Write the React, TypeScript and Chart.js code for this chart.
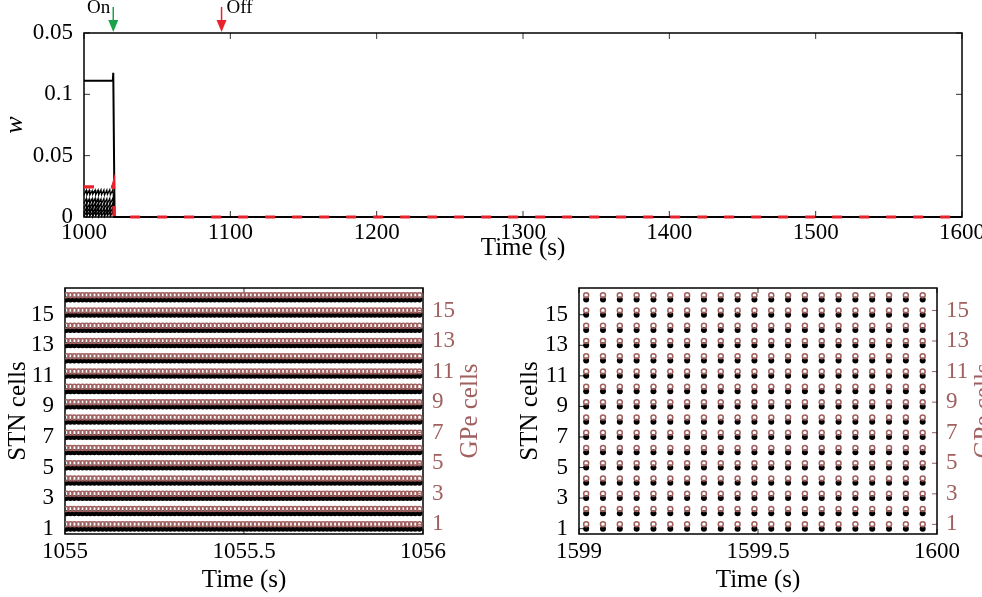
import React, { useEffect, useRef } from "react";
import { Chart, registerables } from "chart.js";
Chart.register(...registerables);

const FONT_FAMILY = "'Liberation Serif', 'DejaVu Serif', serif";
const GPE_COLOR = "#a0605f";
const RED = "#e8232d";
const GREEN = "#18a34a";

// ---------- top panel data ----------
const TOP_X_TICKS = [1000, 1100, 1200, 1300, 1400, 1500, 1600];
const TOP_Y_TICKS = [0, 0.05, 0.1, 0.15];
const TOP_Y_LABELS = ["0", "0.05", "0.1", "0.05"];
const ON_TIME = 1020;
const OFF_TIME = 1094;

const WMAX_T = [1000, 1019.7, 1020, 1020.9, 1600];
const WMAX_V = [0.111, 0.111, 0.1176, 0, 0];
const WRED_T = [1000, 1019.6, 1020.2, 1020.6, 1600];
const WRED_V = [0.0245, 0.0245, 0.027, 0, 0];

const ZIG_T = [1000, 1001.6, 1002, 1003.6, 1004, 1005.6, 1006, 1007.6, 1008, 1009.6, 1010, 1011.6, 1012, 1013.6, 1014, 1015.6, 1016, 1017.6, 1018, 1019.6, 1020, 1020.8, 1600];
const ZIG_1 = [0.018, 0.022, 0.018, 0.022, 0.018, 0.0215, 0.0185, 0.022, 0.018, 0.022, 0.018, 0.0222, 0.0182, 0.022, 0.018, 0.022, 0.0185, 0.0222, 0.0182, 0.022, 0.019, 0, 0];
const ZIG_2 = [0.011, 0.015, 0.011, 0.0148, 0.0108, 0.015, 0.0112, 0.0152, 0.011, 0.015, 0.011, 0.0148, 0.011, 0.015, 0.0112, 0.015, 0.011, 0.0152, 0.011, 0.015, 0.012, 0, 0];
const ZIG_3 = [0.007, 0.011, 0.006, 0.0105, 0.0068, 0.011, 0.007, 0.0112, 0.0065, 0.011, 0.007, 0.0108, 0.0068, 0.011, 0.007, 0.0112, 0.0066, 0.011, 0.007, 0.011, 0.008, 0, 0];
const ZIG_4 = [0.003, 0.0075, 0.0035, 0.007, 0.003, 0.0078, 0.0032, 0.0072, 0.003, 0.0076, 0.0034, 0.007, 0.003, 0.0075, 0.0032, 0.0074, 0.003, 0.0072, 0.0034, 0.0076, 0.004, 0, 0];
const ZIG_5 = [0.0005, 0.004, 0.001, 0.0042, 0.0008, 0.0038, 0.0005, 0.0044, 0.001, 0.004, 0.0006, 0.0042, 0.0008, 0.004, 0.0005, 0.0043, 0.001, 0.004, 0.0006, 0.0042, 0.002, 0, 0];
const ZIGS = [ZIG_1, ZIG_2, ZIG_3, ZIG_4, ZIG_5];

// ---------- raster panels data ----------
const CELLS = [1, 2, 3, 4, 5, 6, 7, 8, 9, 10, 11, 12, 13, 14, 15, 16];
const CELL_TICKS = [1, 3, 5, 7, 9, 11, 13, 15];

const LEFT_BASE = 1055;
const LEFT_X_TICKS = [1055, 1055.5, 1056];
const LEFT_X_LABELS = ["1055", "1055.5", "1056"];
const LEFT_SPIKES_MS = [4, 15, 26, 38, 49, 60, 71, 82, 94, 105, 116, 127, 138, 150, 161, 172, 183, 194, 206, 217, 228, 239, 250, 262, 273, 284, 295, 306, 318, 329, 340, 351, 362, 374, 385, 396, 407, 418, 430, 441, 452, 463, 474, 486, 497, 508, 519, 530, 542, 553, 564, 575, 586, 598, 609, 620, 631, 642, 654, 665, 676, 687, 698, 710, 721, 732, 743, 754, 766, 777, 788, 799, 810, 822, 833, 844, 855, 866, 878, 889, 900, 911, 922, 934, 945, 956, 967, 978, 990];

const RIGHT_BASE = 1599;
const RIGHT_X_TICKS = [1599, 1599.5, 1600];
const RIGHT_X_LABELS = ["1599", "1599.5", "1600"];
const RIGHT_SPIKES_MS = [20, 67, 114, 161, 208, 255, 302, 349, 396, 443, 490, 537, 584, 631, 678, 725, 772, 819, 866, 913, 960];

const TICK_SIZE = 23;
const TITLE_SIZE = 25;
const font = (size: number, style: string = "normal") => ({ family: FONT_FAMILY, size, style: style as any });

function makeFramePlugin(cfg: { mirrorLeft?: boolean; gpeTitle?: boolean; arrows?: boolean; tickLen: number }) {
  return {
    id: "frame",
    beforeDatasetsDraw(chart: any) {
      const { ctx, chartArea: a, scales } = chart;
      const L = cfg.tickLen;
      ctx.save();
      const seg = (x1: number, y1: number, x2: number, y2: number) => {
        ctx.beginPath();
        ctx.moveTo(x1, y1);
        ctx.lineTo(x2, y2);
        ctx.stroke();
      };
      ctx.lineWidth = 1;
      ctx.strokeStyle = "#333";
      const xs = scales.x;
      for (const t of xs.ticks) {
        const p = xs.getPixelForValue(t.value);
        seg(p, a.bottom, p, a.bottom - L);
        seg(p, a.top, p, a.top + L);
      }
      const ys = scales.y;
      for (const t of ys.ticks) {
        const p = ys.getPixelForValue(t.value);
        seg(a.left, p, a.left + L, p);
        if (cfg.mirrorLeft) seg(a.right, p, a.right - L, p);
      }
      if (scales.y2) {
        ctx.strokeStyle = GPE_COLOR;
        for (const t of scales.y2.ticks) {
          const p = scales.y2.getPixelForValue(t.value);
          seg(a.right, p, a.right - L, p);
        }
      }
      ctx.strokeStyle = "#000";
      ctx.lineWidth = 1.5;
      ctx.strokeRect(a.left, a.top, a.right - a.left, a.bottom - a.top);
      ctx.restore();
    },
    afterDraw(chart: any) {
      const { ctx, chartArea: a, scales } = chart;
      ctx.save();
      if (cfg.gpeTitle) {
        ctx.translate(a.right + 47, (a.top + a.bottom) / 2);
        ctx.rotate(-Math.PI / 2);
        ctx.fillStyle = GPE_COLOR;
        ctx.font = `${TITLE_SIZE}px ${FONT_FAMILY}`;
        ctx.textAlign = "center";
        ctx.textBaseline = "middle";
        ctx.fillText("GPe cells", 0, 0);
        ctx.setTransform(1, 0, 0, 1, 0, 0);
      }
      if (cfg.arrows) {
        const xs = scales.x;
        const drawArrow = (t: number, color: string, label: string, side: string) => {
          const x = xs.getPixelForValue(t);
          ctx.strokeStyle = color;
          ctx.fillStyle = color;
          ctx.lineWidth = 1.5;
          ctx.beginPath();
          ctx.moveTo(x, 7);
          ctx.lineTo(x, a.top - 10);
          ctx.stroke();
          ctx.beginPath();
          ctx.moveTo(x - 5, a.top - 13);
          ctx.lineTo(x + 5, a.top - 13);
          ctx.lineTo(x, a.top - 1);
          ctx.closePath();
          ctx.fill();
          ctx.fillStyle = "#000";
          ctx.font = `19px ${FONT_FAMILY}`;
          ctx.textBaseline = "alphabetic";
          ctx.textAlign = side === "left" ? "right" : "left";
          ctx.fillText(label, side === "left" ? x - 3 : x + 5, 13);
        };
        drawArrow(ON_TIME, GREEN, "On", "left");
        drawArrow(OFF_TIME, RED, "Off", "right");
      }
      ctx.restore();
    },
  };
}

const pts = (ts: number[], vs: number[]) => ts.map((t, i) => ({ x: t, y: vs[i] }));

function topConfig(): any {
  return {
    type: "line",
    data: {
      datasets: [
        { data: pts(WRED_T, WRED_V), borderColor: RED, borderWidth: 3.2, borderDash: [10, 17], pointRadius: 0, fill: false, clip: 6 },
        { data: pts(WMAX_T, WMAX_V), borderColor: "#000", borderWidth: 2, pointRadius: 0, fill: false, clip: 6 },
        ...ZIGS.map((v) => ({ data: pts(ZIG_T, v), borderColor: "#000", borderWidth: 1.3, pointRadius: 0, fill: false, clip: 6 })),
      ],
    },
    options: {
      animation: false,
      responsive: true,
      maintainAspectRatio: false,
      events: [],
      layout: { padding: { top: 33, right: 20, left: 0, bottom: 0 } },
      plugins: { legend: { display: false }, tooltip: { enabled: false } },
      scales: {
        x: {
          type: "linear",
          min: 1000,
          max: 1600,
          afterBuildTicks: (s: any) => { s.ticks = TOP_X_TICKS.map((v) => ({ value: v })); },
          ticks: { font: font(TICK_SIZE), color: "#000", padding: 2, maxRotation: 0, autoSkip: false, callback: (v: any) => String(v) },
          grid: { display: false, drawTicks: false },
          border: { display: false },
          title: { display: true, text: "Time (s)", font: font(TITLE_SIZE), color: "#000", padding: { top: 0, bottom: 2 } },
          afterFit: (s: any) => { s.height = 48; s.paddingLeft = 0; s.paddingRight = 0; },
        },
        y: {
          type: "linear",
          min: 0,
          max: 0.15,
          afterBuildTicks: (s: any) => { s.ticks = TOP_Y_TICKS.map((v) => ({ value: v })); },
          ticks: { font: font(TICK_SIZE), color: "#000", padding: 11, autoSkip: false, callback: (_v: any, i: number) => TOP_Y_LABELS[i] },
          grid: { display: false, drawTicks: false },
          border: { display: false },
          title: { display: true, text: "w", font: font(26, "italic"), color: "#000", padding: { top: 0, bottom: 0 } },
          afterFit: (s: any) => { s.width = 84; s.paddingTop = 0; s.paddingBottom = 0; },
        },
      },
    },
    plugins: [makeFramePlugin({ mirrorLeft: true, arrows: true, tickLen: 6 })],
  };
}

function rasterConfig(base: number, spikesMs: number[], xTicks: number[], xLabels: string[], leftPad: number, yWidth: number, gpeWidth: number): any {
  const times = spikesMs.map((m) => base + m / 1000);
  const stn = CELLS.flatMap((c) => times.map((t) => ({ x: t, y: c })));
  const gpe = CELLS.flatMap((c) => times.map((t) => ({ x: t, y: c })));
  return {
    type: "scatter",
    data: {
      datasets: [
        { data: gpe, yAxisID: "y2", pointRadius: 2.5, borderWidth: 1.5, borderColor: GPE_COLOR, backgroundColor: "rgba(255,255,255,0)", showLine: false },
        { data: stn, yAxisID: "y", pointRadius: 3, borderWidth: 0, backgroundColor: "#000", borderColor: "#000", showLine: false },
      ],
    },
    options: {
      animation: false,
      responsive: true,
      maintainAspectRatio: false,
      events: [],
      layout: { padding: { top: 18, right: 0, left: leftPad, bottom: 0 } },
      plugins: { legend: { display: false }, tooltip: { enabled: false } },
      scales: {
        x: {
          type: "linear",
          min: base,
          max: base + 1,
          afterBuildTicks: (s: any) => { s.ticks = xTicks.map((v) => ({ value: v })); },
          ticks: { font: font(TICK_SIZE), color: "#000", padding: 4, maxRotation: 0, autoSkip: false, callback: (_v: any, i: number) => xLabels[i] },
          grid: { display: false, drawTicks: false },
          border: { display: false },
          title: { display: true, text: "Time (s)", font: font(TITLE_SIZE), color: "#000", padding: { top: 0, bottom: 2 } },
          afterFit: (s: any) => { s.height = 63; s.paddingLeft = 0; s.paddingRight = 0; },
        },
        y: {
          type: "linear",
          position: "left",
          min: 0.65,
          max: 16.75,
          afterBuildTicks: (s: any) => { s.ticks = CELL_TICKS.map((v) => ({ value: v })); },
          ticks: { font: font(TICK_SIZE), color: "#000", padding: 11, autoSkip: false, callback: (v: any) => String(v) },
          grid: { display: false, drawTicks: false },
          border: { display: false },
          title: { display: true, text: "STN cells", font: font(TITLE_SIZE), color: "#000", padding: { top: 3, bottom: 0 } },
          afterFit: (s: any) => { s.width = yWidth; s.paddingTop = 0; s.paddingBottom = 0; },
        },
        y2: {
          type: "linear",
          position: "right",
          min: 0.37,
          max: 16.47,
          afterBuildTicks: (s: any) => { s.ticks = CELL_TICKS.map((v) => ({ value: v })); },
          ticks: { font: font(TICK_SIZE), color: GPE_COLOR, padding: 9, autoSkip: false, callback: (v: any) => String(v) },
          grid: { display: false, drawTicks: false },
          border: { display: false },
          afterFit: (s: any) => { s.width = gpeWidth; s.paddingTop = 0; s.paddingBottom = 0; },
        },
      },
    },
    plugins: [makeFramePlugin({ gpeTitle: true, tickLen: 5 })],
  };
}

export default function App() {
  const topRef = useRef<HTMLCanvasElement | null>(null);
  const leftRef = useRef<HTMLCanvasElement | null>(null);
  const rightRef = useRef<HTMLCanvasElement | null>(null);

  useEffect(() => {
    const charts: Chart[] = [];
    if (topRef.current) charts.push(new Chart(topRef.current, topConfig()));
    if (leftRef.current) charts.push(new Chart(leftRef.current, rasterConfig(LEFT_BASE, LEFT_SPIKES_MS, LEFT_X_TICKS, LEFT_X_LABELS, 0, 65, 68)));
    if (rightRef.current) charts.push(new Chart(rightRef.current, rasterConfig(RIGHT_BASE, RIGHT_SPIKES_MS, RIGHT_X_TICKS, RIGHT_X_LABELS, 21, 67, 64)));
    return () => charts.forEach((c) => c.destroy());
  }, []);

  return (
    <div style={{ position: "fixed", left: 0, top: 0, width: 982, height: 597, overflow: "hidden", background: "#fff" }}>
      <div style={{ position: "absolute", left: 0, top: 0, width: 982, height: 265 }}>
        <canvas ref={topRef} />
      </div>
      <div style={{ position: "absolute", left: 0, top: 270, width: 491, height: 327 }}>
        <canvas ref={leftRef} />
      </div>
      <div style={{ position: "absolute", left: 491, top: 270, width: 510, height: 327 }}>
        <canvas ref={rightRef} />
      </div>
    </div>
  );
}
